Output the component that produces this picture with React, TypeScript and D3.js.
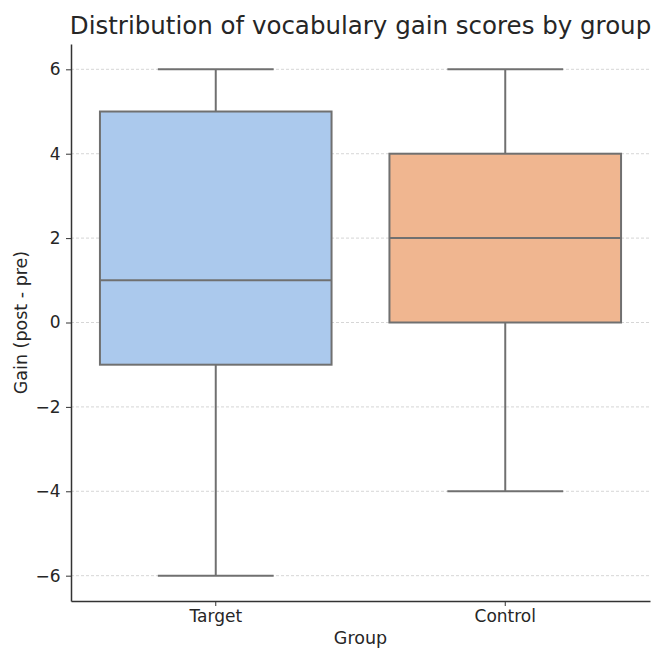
import React, { useEffect, useRef } from 'react';
import * as d3 from 'd3';

// Box plot summary for each group
const groups = ['Target', 'Control'];
const mins = [-6, -4];
const q1s = [-1, 0];
const medians = [1, 2];
const q3s = [5, 4];
const maxs = [6, 6];
const fills = ['#abc9ed', '#f0b690'];
const yTicks = [-6, -4, -2, 0, 2, 4, 6];

export default function App() {
  const ref = useRef<SVGSVGElement>(null);

  useEffect(() => {
    const svg = d3.select(ref.current);
    svg.selectAll('*').remove();

    const width = 657;
    const height = 650;
    const margin = { top: 44, right: 7, bottom: 49, left: 71 };
    const font = 'DejaVu Sans, sans-serif';
    const stroke = '#707070';

    const x = d3.scaleBand().domain(groups).range([margin.left, width - margin.right]).paddingInner(0).paddingOuter(0);
    const y = d3.scaleLinear().domain([-6.6, 6.6]).range([height - margin.bottom, margin.top]);

    // grid
    svg.append('g')
      .selectAll('line')
      .data(yTicks)
      .join('line')
      .attr('x1', margin.left)
      .attr('x2', width - margin.right)
      .attr('y1', d => y(d))
      .attr('y2', d => y(d))
      .attr('stroke', '#cccccc')
      .attr('stroke-width', 0.8)
      .attr('stroke-dasharray', '3,2');

    const data = groups.map((g, i) => ({
      g, min: mins[i], q1: q1s[i], med: medians[i], q3: q3s[i], max: maxs[i], fill: fills[i],
    }));

    const bw = x.bandwidth() * 0.8;
    const box = svg.append('g')
      .selectAll('g')
      .data(data)
      .join('g')
      .attr('transform', d => `translate(${x(d.g)! + x.bandwidth() / 2},0)`);

    // whiskers
    box.append('line')
      .attr('x1', 0).attr('x2', 0)
      .attr('y1', d => y(d.q3)).attr('y2', d => y(d.max))
      .attr('stroke', stroke).attr('stroke-width', 2);
    box.append('line')
      .attr('x1', 0).attr('x2', 0)
      .attr('y1', d => y(d.q1)).attr('y2', d => y(d.min))
      .attr('stroke', stroke).attr('stroke-width', 2);
    box.append('line')
      .attr('x1', -bw / 4).attr('x2', bw / 4)
      .attr('y1', d => y(d.max)).attr('y2', d => y(d.max))
      .attr('stroke', stroke).attr('stroke-width', 2);
    box.append('line')
      .attr('x1', -bw / 4).attr('x2', bw / 4)
      .attr('y1', d => y(d.min)).attr('y2', d => y(d.min))
      .attr('stroke', stroke).attr('stroke-width', 2);

    box.append('rect')
      .attr('x', -bw / 2)
      .attr('width', bw)
      .attr('y', d => y(d.q3))
      .attr('height', d => y(d.q1) - y(d.q3))
      .attr('fill', d => d.fill)
      .attr('stroke', stroke)
      .attr('stroke-width', 2);

    box.append('line')
      .attr('x1', -bw / 2).attr('x2', bw / 2)
      .attr('y1', d => y(d.med)).attr('y2', d => y(d.med))
      .attr('stroke', stroke).attr('stroke-width', 2);

    // axes
    const xAxis = svg.append('g')
      .attr('transform', `translate(0,${height - margin.bottom})`)
      .call(d3.axisBottom(x).tickSize(5).tickSizeOuter(0));
    const yAxis = svg.append('g')
      .attr('transform', `translate(${margin.left},0)`)
      .call(d3.axisLeft(y).tickValues(yTicks).tickSize(5).tickSizeOuter(0).tickFormat(d => d3.format('d')(d as number).replace('-', '\u2212')));

    [xAxis, yAxis].forEach(a => {
      a.select('.domain').attr('stroke', '#333').attr('stroke-width', 1.5);
      a.selectAll('.tick line').attr('stroke', '#333').attr('stroke-width', 1);
      a.selectAll('.tick text').attr('fill', '#262626').attr('font-family', font).attr('font-size', 17);
    });
    xAxis.selectAll('.tick text').attr('dy', '0.78em');
    yAxis.selectAll('.tick text').attr('dx', '-0.15em');

    // labels
    svg.append('text')
      .attr('x', (margin.left + width - margin.right) / 2)
      .attr('y', 644)
      .attr('text-anchor', 'middle')
      .attr('font-family', font)
      .attr('font-size', 17.5)
      .attr('fill', '#262626')
      .text('Group');

    svg.append('text')
      .attr('transform', `translate(27,${(margin.top + height - margin.bottom) / 2}) rotate(-90)`)
      .attr('text-anchor', 'middle')
      .attr('font-family', font)
      .attr('font-size', 17.5)
      .attr('fill', '#262626')
      .text('Gain (post - pre)');

    svg.append('text')
      .attr('x', (margin.left + width - margin.right) / 2)
      .attr('y', 34)
      .attr('text-anchor', 'middle')
      .attr('font-family', font)
      .attr('font-size', 24.5)
      .attr('fill', '#262626')
      .text('Distribution of vocabulary gain scores by group');
  }, []);

  return (
    <svg ref={ref} width={657} height={650}
      style={{ position: 'absolute', left: 0, top: 0, background: '#fff' }} />
  );
}
